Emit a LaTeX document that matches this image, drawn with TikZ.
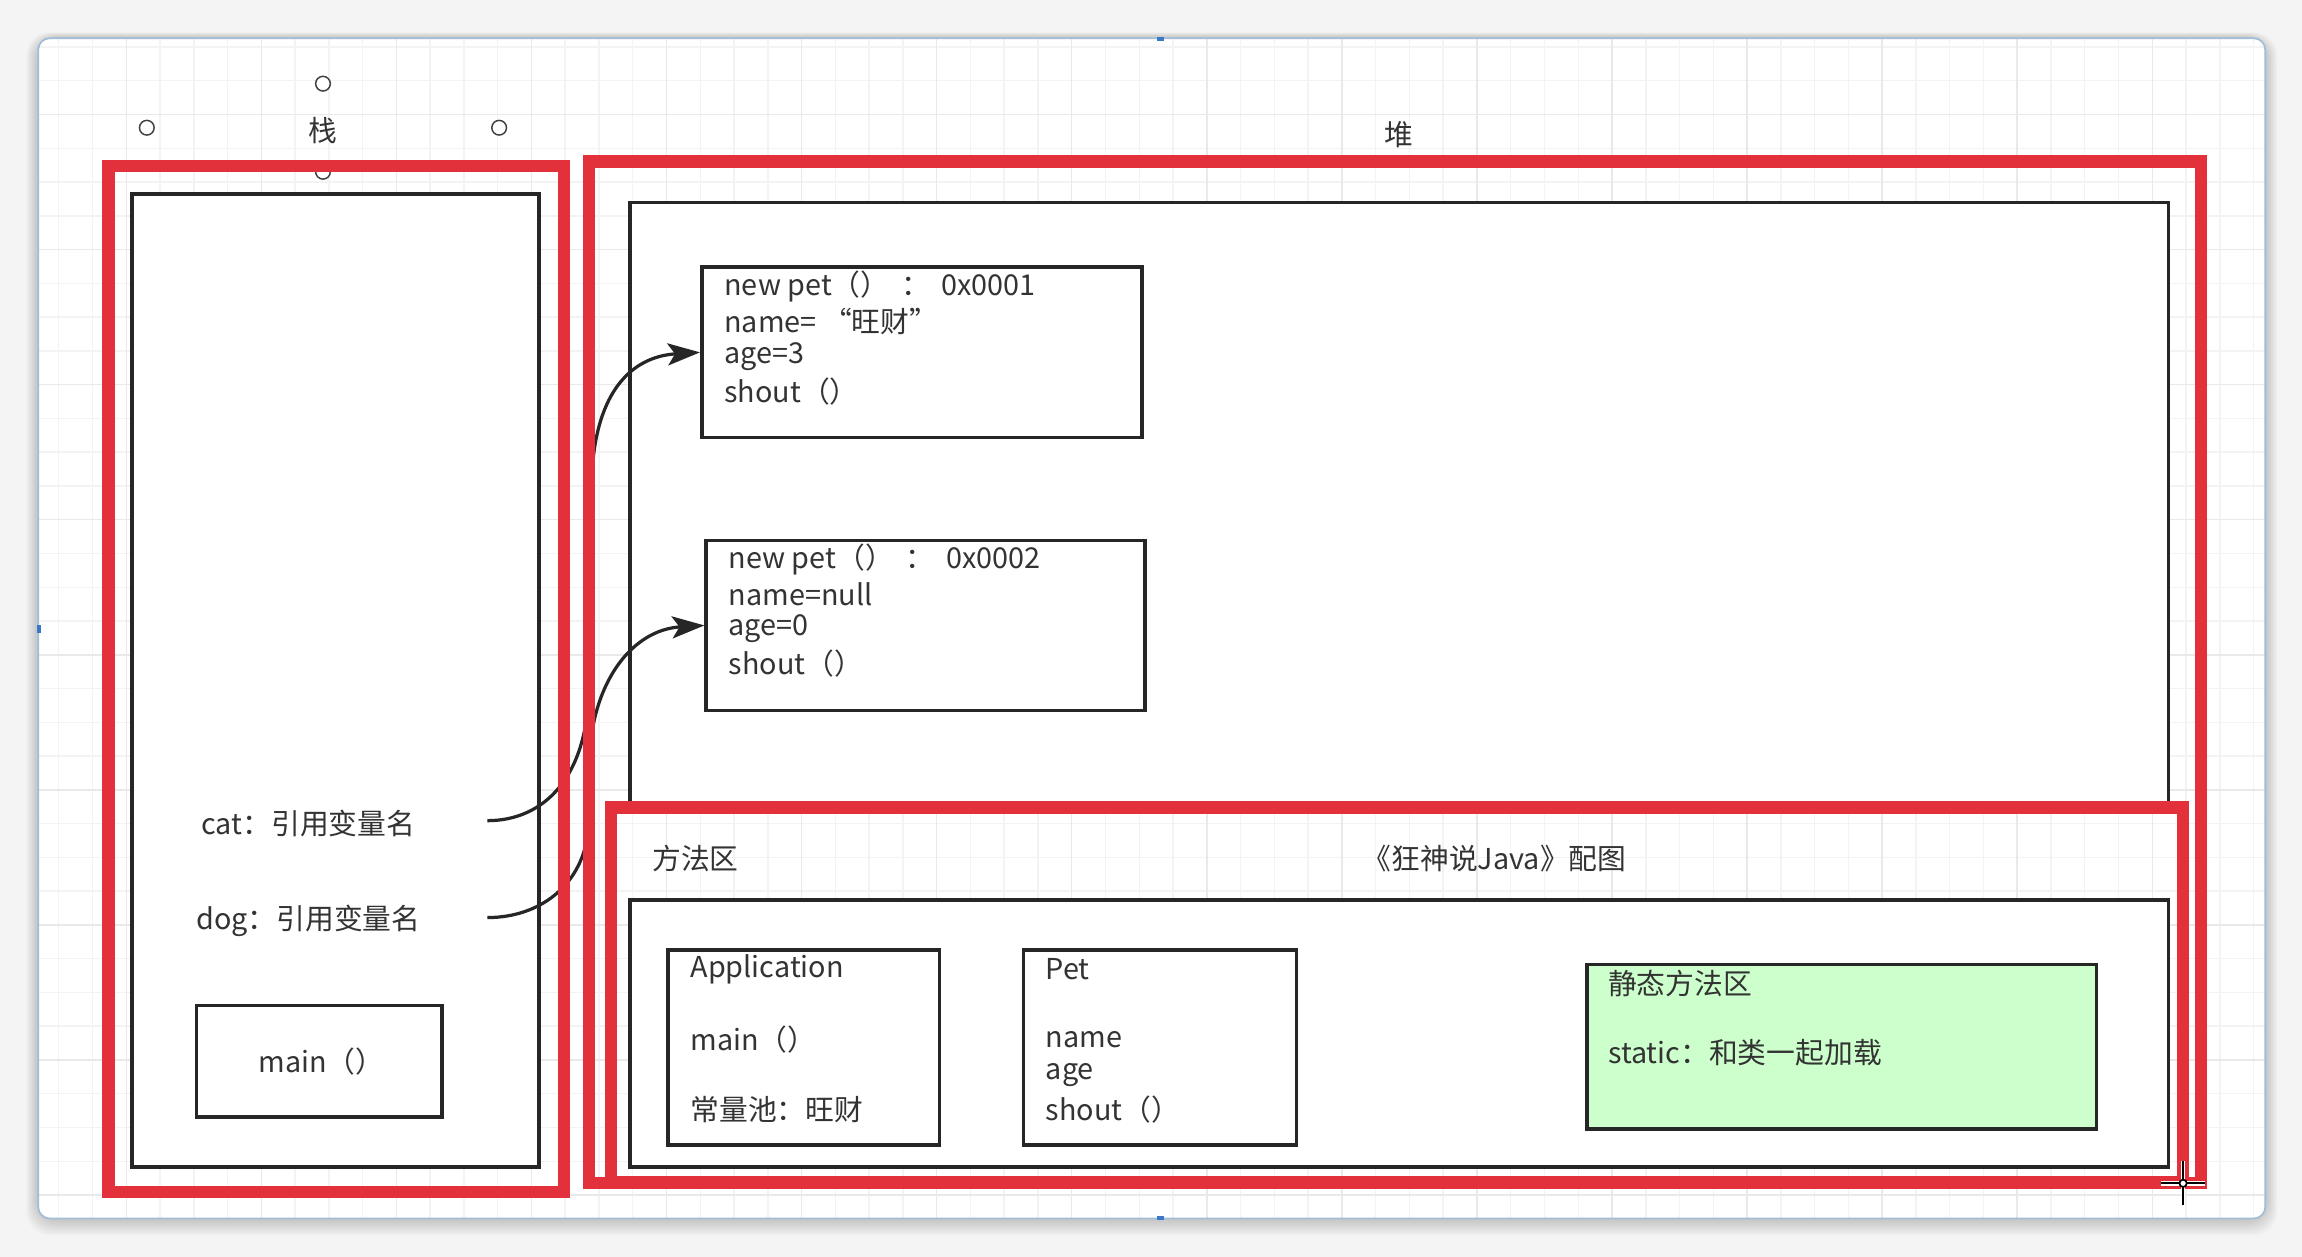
\documentclass[tikz,border=0pt]{standalone}
\usepackage{fontspec}
\setmainfont{Noto Sans CJK SC}
\usetikzlibrary{arrows.meta}
\definecolor{redc}{RGB}{226,49,58}
\definecolor{textc}{RGB}{51,51,51}
\definecolor{greenc}{RGB}{204,255,204}
\definecolor{gridminor}{RGB}{243,243,243}
\definecolor{gridmajor}{RGB}{233,233,233}
\definecolor{bgc}{RGB}{244,244,244}
\definecolor{framec}{RGB}{160,190,215}
\definecolor{handlec}{RGB}{60,120,200}
\begin{document}
\begin{tikzpicture}[x=0.5pt,y=-0.5pt,
  redbox/.style={draw=redc, line width=4.2pt, inner sep=0pt},
  blkbox/.style={draw=black!85, line width=1.2pt, inner sep=0pt},
  fillbox/.style={blkbox, fill=white},
  txt/.style={font=\fontsize{9.8}{12}\selectfont, text=textc, inner sep=0pt},
  ltxt/.style={txt, anchor=west},
  handle/.style={circle, draw=black!75, line width=0.5pt, fill=white, minimum size=5pt, inner sep=0pt},
  arr/.style={draw=black!85, line width=1.1pt, -{Stealth[length=11pt,width=7.5pt,inset=2.5pt]}},
]
\useasboundingbox (0,0) rectangle (1568,856);
\fill[bgc] (0,0) rectangle (1568,856);
% window shadow
\foreach \i in {1,...,8} {
  \fill[black, opacity=0.025, rounded corners=8] (26-\i,26-0.5*\i) rectangle (1543+\i,830+1.4*\i);
}
\fill[white, rounded corners=4] (26,26) rectangle (1543,830);
% grid
\begin{scope}
  \clip (26,26) rectangle (1543,830);
  \foreach \x in {17,40,...,1560} \draw[gridminor, line width=0.5pt] (\x,26) -- (\x,830);
  \foreach \y in {9,32,...,850} \draw[gridminor, line width=0.5pt] (26,\y) -- (1543,\y);
  \foreach \x in {86,178,...,1560} \draw[gridmajor, line width=0.5pt] (\x,26) -- (\x,830);
  \foreach \y in {78,170,...,850} \draw[gridmajor, line width=0.5pt] (26,\y) -- (1543,\y);
\end{scope}
\draw[framec, line width=0.6pt, rounded corners=4] (26,26) rectangle (1543,830);
% selection marks of the window
\fill[handlec] (788,25) rectangle (793,28);
\fill[handlec] (25,426) rectangle (28,431);
\fill[handlec] (788,828) rectangle (793,831);

% handles around the stack label
\node[handle] (h1) at (100,87) {};
\node[handle] (h2) at (220,57) {};
\node[handle] (h3) at (340,87) {};
\node[handle] (h4) at (220,117) {};
\node[txt] (zhan) at (220,89) {栈};
\node[txt] (dui) at (953,92) {堆};

% inner white boxes
\node[fillbox, minimum width=138.5pt, minimum height=331.5pt] (stackin) at (228.5,463.5) {};
\node[fillbox, minimum width=524pt, minimum height=206pt] (heapin) at (953,344) {};
\node[fillbox, minimum width=150pt, minimum height=58pt] (pet1) at (628,240) {};
\node[fillbox, minimum width=149.5pt, minimum height=58pt] (pet2) at (630.5,426) {};

% references (run under the red frames)
\coordinate (catend) at (332,559);
\coordinate (dogend) at (332,625);
\draw[arr] (catend) .. controls (370,559) and (400,530) .. (401,470)
  -- (403,330) .. controls (404,270) and (428,243) .. (pet1.west);
\draw[arr] (dogend) .. controls (370,625) and (400,600) .. (401,560)
  -- (402,510) .. controls (405,465) and (430,429) .. (pet2.west);

% red frames
\node[redbox, minimum width=155pt, minimum height=349.5pt] (stack) at (229,462.5) {};
\node[redbox, minimum width=549pt, minimum height=348pt] (heap) at (950,458) {};
\node[redbox, minimum width=535.5pt, minimum height=127.5pt] (method) at (951.5,677.5) {};

% stack contents
\node[txt] (cat) at (210,561) {cat：引用变量名};
\node[txt] (dog) at (210,627) {dog：引用变量名};
\node[fillbox, minimum width=83.5pt, minimum height=38pt] (mainbox) at (217.5,723) {};
\node[txt] (maintxt) at (219,723) {main（）};

% heap objects
\node[ltxt] (p1a) at (493,195) {new pet（）\hspace{4pt}：\hspace{4pt}0x0001};
\node[ltxt] (p1b) at (493,219) {name= “旺财”};
\node[ltxt] (p1c) at (493,243) {age=3};
\node[ltxt] (p1d) at (493,267) {shout（）};

\node[ltxt] (p2a) at (496,381) {new pet（）\hspace{4pt}：\hspace{4pt}0x0002};
\node[ltxt] (p2b) at (496,405) {name=null};
\node[ltxt] (p2c) at (496,428) {age=0};
\node[ltxt] (p2d) at (496,452) {shout（）};

% method area
\node[ltxt] (fangfa) at (444,585) {方法区};
\node[txt] (credit) at (1018,585) {《狂神说Java》配图};
\node[fillbox, minimum width=524pt, minimum height=91pt] (methodin) at (953,704) {};

\node[fillbox, minimum width=92.5pt, minimum height=66.5pt] (app) at (547.5,713.5) {};
\node[ltxt] (appa) at (470,660) {Application};
\node[ltxt] (appb) at (470,708) {main（）};
\node[ltxt] (appc) at (470,756) {常量池：旺财};

\node[fillbox, minimum width=93pt, minimum height=66.5pt] (petc) at (790,713.5) {};
\node[ltxt] (peta) at (712,660) {Pet};
\node[ltxt] (petb) at (712,708) {name};
\node[ltxt] (petd) at (712,732) {age};
\node[ltxt] (pete) at (712,756) {shout（）};

\node[blkbox, fill=greenc, minimum width=173.5pt, minimum height=56pt] (static) at (1254.5,713) {};
\node[ltxt] (sta) at (1095,670) {静态方法区};
\node[ltxt] (stb) at (1095,717) {static：和类一起加载};

% mouse cursor
\draw[white, line width=1.6pt] (1487,791) -- (1487,821) (1472,806) -- (1502,806);
\draw[black, line width=0.6pt] (1487,791) -- (1487,821) (1472,806) -- (1502,806);
\draw[black, line width=0.6pt, fill=white] (1487,806) circle (2.5);
\end{tikzpicture}
\end{document}
